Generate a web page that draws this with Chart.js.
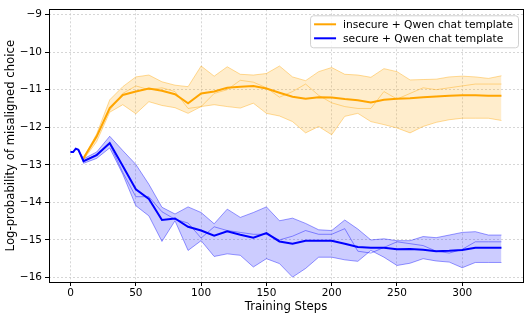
<!DOCTYPE html>
<html>
<head>
<meta charset="utf-8">
<script src="https://cdn.jsdelivr.net/npm/chart.js@4/dist/chart.umd.min.js"></script>
<style>
  html, body { margin: 0; padding: 0; background: #fff; }
  #wrap { width: 532px; height: 319px; }
</style>
</head>
<body>
<div id="wrap"><canvas id="chart"></canvas></div>
<script>
// steps for each series
const insecureSteps = [10, 20, 30, 40, 50, 60, 70, 80, 90, 100, 110, 120, 130, 140, 150, 160, 170,
  180, 190, 200, 210, 220, 230, 240, 250, 260, 270, 280, 290, 300, 310, 320, 330];
const secureSteps = [0, 2, 4, 6, 10, 20, 30, 40, 50, 60, 70, 80, 90, 100, 110, 120, 130, 140, 150,
  160, 170, 180, 190, 200, 210, 220, 230, 240, 250, 260, 270, 280, 290, 300, 310, 320, 330];

// insecure + Qwen chat template (orange)
const insecureMean = [-12.82, -12.25, -11.49, -11.14, -11.05, -10.97, -11.03, -11.12, -11.36, -11.10,
  -11.05, -10.95, -10.92, -10.90, -10.97, -11.08, -11.19, -11.24, -11.20, -11.21, -11.25, -11.28,
  -11.34, -11.27, -11.24, -11.23, -11.20, -11.18, -11.16, -11.15, -11.15, -11.16, -11.16];
const insecureHigh = [-12.80, -12.18, -11.27, -10.92, -10.66, -10.61, -10.79, -10.88, -10.92, -10.37,
  -10.64, -10.39, -10.59, -10.61, -10.57, -10.37, -10.66, -10.76, -10.52, -10.41, -10.59, -10.61,
  -10.67, -10.44, -10.52, -10.74, -10.73, -10.72, -10.66, -10.64, -10.66, -10.70, -10.63];
const insecureLow = [-12.86, -12.38, -11.60, -11.40, -11.64, -11.32, -11.42, -11.48, -11.63, -11.45,
  -11.40, -11.45, -11.49, -11.36, -11.63, -11.70, -11.85, -12.15, -11.98, -12.20, -11.71, -11.63,
  -11.85, -11.93, -12.02, -12.15, -11.98, -11.87, -11.80, -11.76, -11.76, -11.76, -11.82];
const insecureMidRun = [-12.84, -12.20, -11.55, -11.10, -10.90, -11.00, -10.95, -11.05, -11.50, -11.45,
  -11.10, -11.00, -10.75, -10.80, -10.95, -11.20, -11.05, -10.85, -11.15, -11.35, -11.45, -11.50,
  -11.50, -11.05, -11.25, -11.10, -10.95, -11.00, -10.95, -10.90, -10.85, -10.85, -10.85];

// secure + Qwen chat template (blue)
const secureMean = [-12.66, -12.66, -12.57, -12.60, -12.90, -12.74, -12.42, -13.03, -13.65, -13.91,
  -14.47, -14.43, -14.65, -14.75, -14.89, -14.77, -14.86, -14.94, -14.82, -15.04, -15.10, -15.02,
  -15.02, -15.02, -15.10, -15.19, -15.21, -15.21, -15.25, -15.24, -15.26, -15.30, -15.29, -15.27,
  -15.21, -15.21, -15.21];
const secureHigh = [-12.66, -12.66, -12.57, -12.60, -12.84, -12.66, -12.24, -12.62, -12.99, -13.52,
  -14.13, -14.31, -14.12, -14.27, -14.57, -14.18, -14.40, -14.27, -14.12, -14.49, -14.42, -14.56,
  -14.73, -14.75, -14.47, -14.71, -15.00, -14.97, -15.02, -15.02, -14.91, -14.94, -14.87, -14.80,
  -14.78, -14.87, -14.87];
const secureLow = [-12.66, -12.66, -12.57, -12.60, -12.96, -12.83, -12.55, -13.25, -14.09, -14.36,
  -15.04, -14.49, -15.28, -15.02, -15.44, -15.37, -15.41, -15.72, -15.50, -15.63, -15.99, -15.76,
  -15.46, -15.46, -15.53, -15.57, -15.28, -15.46, -15.68, -15.62, -15.50, -15.56, -15.59, -15.74,
  -15.60, -15.60, -15.60];
const secureMidRun = [-12.66, -12.66, -12.57, -12.60, -12.90, -12.72, -12.45, -13.20, -13.85, -13.85,
  -14.25, -14.45, -14.55, -14.95, -14.65, -14.75, -14.80, -14.85, -14.85, -15.00, -14.90, -14.75,
  -14.85, -14.85, -14.70, -15.30, -15.35, -15.20, -15.05, -15.10, -15.15, -15.30, -15.35, -15.25,
  -15.05, -15.05, -15.05];

const xTicks = [0, 50, 100, 150, 200, 250, 300];
const yTicks = [-16, -15, -14, -13, -12, -11, -10, -9];
const seriesLabels = ['insecure + Qwen chat template', 'secure + Qwen chat template'];

const FONT = "'DejaVu Sans', sans-serif";

function pts(steps, vals) {
  return steps.map((s, i) => ({ x: s, y: vals[i] }));
}

function band(steps, hi, lo, rgb) {
  return [
    { data: pts(steps, hi), borderColor: `rgba(${rgb},0.4)`, borderWidth: 1,
      backgroundColor: `rgba(${rgb},0.2)`, fill: '+1', order: 3 },
    { data: pts(steps, lo), borderColor: `rgba(${rgb},0.4)`, borderWidth: 1, fill: false, order: 3 }
  ];
}

// box around the plot, like matplotlib spines
const frame = {
  id: 'frame',
  afterDraw(chart) {
    const a = chart.chartArea, c = chart.ctx;
    c.save();
    c.strokeStyle = '#000';
    c.lineWidth = 1;
    c.strokeRect(Math.round(a.left) + 0.5, Math.round(a.top) + 0.5,
      Math.round(a.right - a.left), Math.round(a.bottom - a.top));
    c.restore();
  }
};

// legend inside the upper right corner
const innerLegend = {
  id: 'innerLegend',
  afterDraw(chart) {
    const a = chart.chartArea, c = chart.ctx;
    const colors = ['orange', 'blue'];
    c.save();
    c.font = '10.7px ' + FONT;
    const tw = Math.max(...seriesLabels.map(t => c.measureText(t).width));
    const w = 4 + 22 + 7 + tw + 5;
    const h = 32;
    const x0 = a.right - 5 - w, y0 = a.top + 6;
    c.beginPath();
    c.roundRect(x0 + 0.5, y0 + 0.5, w, h, 3);
    c.fillStyle = 'rgba(255,255,255,0.8)';
    c.fill();
    c.strokeStyle = '#d0d0d0';
    c.lineWidth = 1;
    c.stroke();
    seriesLabels.forEach((t, i) => {
      const y = y0 + 9 + i * 14;
      c.strokeStyle = colors[i];
      c.lineWidth = 2;
      c.beginPath();
      c.moveTo(x0 + 4, y);
      c.lineTo(x0 + 26, y);
      c.stroke();
      c.fillStyle = '#000';
      c.textBaseline = 'middle';
      c.fillText(t, x0 + 33, y + 0.5);
    });
    c.restore();
  }
};

new Chart(document.getElementById('chart'), {
  type: 'line',
  data: {
    datasets: [
      { label: seriesLabels[0], data: pts(insecureSteps, insecureMean), borderColor: 'orange',
        borderWidth: 2, fill: false, order: 1 },
      { data: pts(insecureSteps, insecureMidRun), borderColor: 'rgba(255,165,0,0.4)', borderWidth: 1,
        fill: false, order: 2 },
      ...band(insecureSteps, insecureHigh, insecureLow, '255,165,0'),
      { label: seriesLabels[1], data: pts(secureSteps, secureMean), borderColor: 'blue',
        borderWidth: 2, fill: false, order: 0 },
      { data: pts(secureSteps, secureMidRun), borderColor: 'rgba(0,0,255,0.4)', borderWidth: 1,
        fill: false, order: 2 },
      ...band(secureSteps, secureHigh, secureLow, '0,0,255')
    ]
  },
  options: {
    responsive: true,
    maintainAspectRatio: false,
    animation: false,
    elements: { point: { radius: 0 }, line: { tension: 0 } },
    layout: { padding: { top: 7, right: 9, left: 0, bottom: 0 } },
    plugins: { legend: { display: false }, tooltip: { enabled: false } },
    scales: {
      x: {
        type: 'linear',
        min: -16.5,
        max: 346.5,
        afterBuildTicks: s => { s.ticks = xTicks.map(v => ({ value: v })); },
        afterFit: s => { s.height = 37; },
        ticks: { color: '#000', font: { family: FONT, size: 10.5 }, padding: 1, maxRotation: 0 },
        grid: { color: 'rgba(200,200,200,0.75)', tickColor: '#000', tickLength: 4, tickWidth: 1 },
        border: { display: false, dash: [2, 2] },
        title: { display: true, text: 'Training Steps', color: '#000',
          font: { family: FONT, size: 11.7 }, padding: { top: 0, bottom: 5 } }
      },
      y: {
        min: -16.12,
        max: -8.86,
        afterBuildTicks: s => { s.ticks = yTicks.map(v => ({ value: v })); },
        afterFit: s => { s.width = 49; },
        ticks: { color: '#000', font: { family: FONT, size: 10.5 }, padding: 3,
          callback: v => (v < 0 ? '\u2212' + Math.abs(v) : String(v)) },
        grid: { color: 'rgba(200,200,200,0.75)', tickColor: '#000', tickLength: 4, tickWidth: 1 },
        border: { display: false, dash: [2, 2] },
        title: { display: true, text: 'Log-probability of misaligned choice', color: '#000',
          font: { family: FONT, size: 11.7 }, padding: { top: 4, bottom: 0 } }
      }
    }
  },
  plugins: [frame, innerLegend]
});
</script>
</body>
</html>
